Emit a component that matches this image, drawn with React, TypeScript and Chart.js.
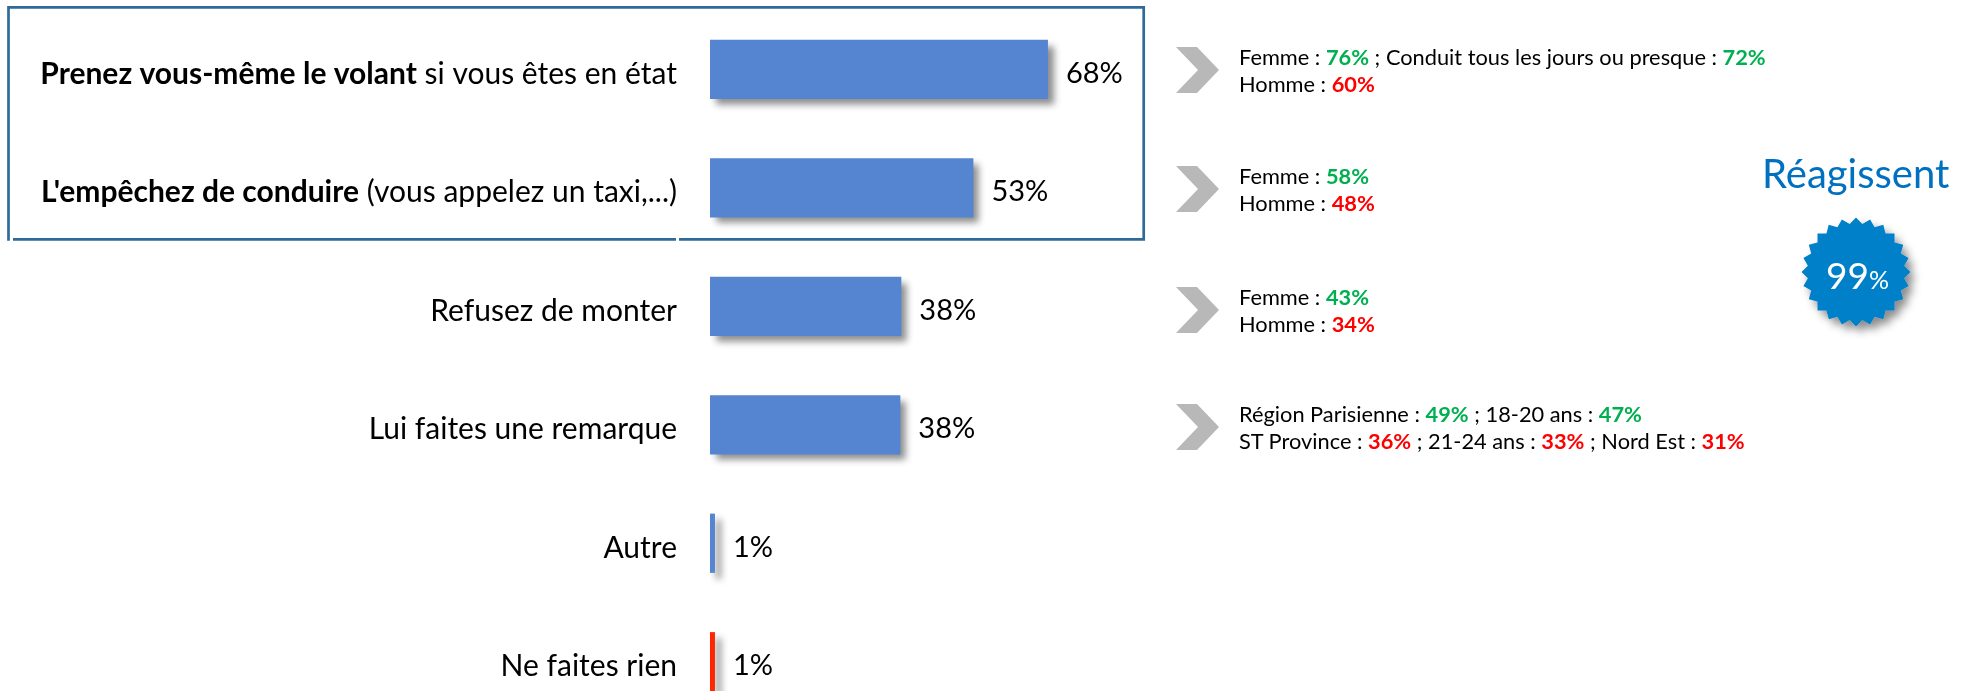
import React, { useEffect, useRef } from "react";
import { Chart, registerables } from "chart.js";

Chart.register(...registerables);

const categories = [
  "Prenez vous-même le volant si vous êtes en état",
  "L'empêchez de conduire (vous appelez un taxi,...)",
  "Refusez de monter",
  "Lui faites une remarque",
  "Autre",
  "Ne faites rien",
];
const boldPrefixes = ["Prenez vous-même le volant", "L'empêchez de conduire", "", "", "", ""];
const values = [68, 53, 38.5, 38.3, 1, 1];
const valueLabels = ["68%", "53%", "38%", "38%", "1%", "1%"];
const barColors = ["#5585d1", "#5585d1", "#5585d1", "#5585d1", "#5585d1", "#ff2600"];

const FONT = "Lato, sans-serif";
const GREEN = "#00b050";
const RED = "#ff0000";

type Seg = [string, string?];
const notes: { top: number; lines: Seg[][] }[] = [
  { top: 70, lines: [
    [["Femme : "], ["76%", GREEN], [" ; Conduit tous les jours ou presque : "], ["72%", GREEN]],
    [["Homme : "], ["60%", RED]],
  ] },
  { top: 189, lines: [
    [["Femme : "], ["58%", GREEN]],
    [["Homme : "], ["48%", RED]],
  ] },
  { top: 310, lines: [
    [["Femme : "], ["43%", GREEN]],
    [["Homme : "], ["34%", RED]],
  ] },
  { top: 427, lines: [
    [["Région Parisienne : "], ["49%", GREEN], [" ; 18-20 ans : "], ["47%", GREEN]],
    [["ST Province : "], ["36%", RED], [" ; 21-24 ans : "], ["33%", RED], [" ; Nord Est : "], ["31%", RED]],
  ] },
];

const starPoints = (() => {
  const pts: string[] = [];
  const n = 24;
  for (let i = 0; i < n * 2; i++) {
    const r = i % 2 === 0 ? 54.5 : 48.5;
    const a = (Math.PI * i) / n - Math.PI / 2;
    pts.push(`${(60 + r * Math.cos(a)).toFixed(1)},${(60 + r * Math.sin(a)).toFixed(1)}`);
  }
  return pts.join(" ");
})();

const overlay = {
  id: "overlay",
  beforeDatasetDraw(chart: any) {
    const c = chart.ctx;
    c.save();
    c.shadowColor = "rgba(0,0,0,0.45)";
    c.shadowBlur = 7;
    c.shadowOffsetX = 6;
    c.shadowOffsetY = 6;
  },
  afterDatasetDraw(chart: any) {
    chart.ctx.restore();
  },
  afterDraw(chart: any) {
    const c = chart.ctx;
    const x = chart.scales.x;
    const y = chart.scales.y;
    c.save();
    c.textBaseline = "middle";
    c.fillStyle = "#000";
    categories.forEach((label, i) => {
      const py = y.getPixelForValue(i) + 5;
      const bold = boldPrefixes[i];
      const rest = label.slice(bold.length);
      c.textAlign = "left";
      c.font = `30px ${FONT}`;
      const restW = c.measureText(rest).width;
      c.font = `bold 30px ${FONT}`;
      const boldW = bold ? c.measureText(bold).width : 0;
      const start = 677 - restW - boldW;
      if (bold) c.fillText(bold, start, py);
      c.font = `30px ${FONT}`;
      c.fillText(rest, start + boldW, py);
      c.font = `29px ${FONT}`;
      c.fillText(valueLabels[i], x.getPixelForValue(values[i]) + 18, py - 1);
    });
    c.restore();
  },
};

export default function App() {
  const ref = useRef<HTMLCanvasElement>(null);
  useEffect(() => {
    const chart = new Chart(ref.current!, {
      type: "bar",
      data: {
        labels: categories,
        datasets: [{ data: values, backgroundColor: barColors, barPercentage: 1, categoryPercentage: 0.5 }],
      },
      options: {
        indexAxis: "y",
        animation: false,
        responsive: false,
        layout: { padding: { left: 710, right: 763, top: 10, bottom: 0 } },
        plugins: { legend: { display: false }, tooltip: { enabled: false } },
        scales: {
          x: { display: false, min: 0, max: 100 },
          y: { display: false },
        },
      },
      plugins: [overlay],
    });
    return () => chart.destroy();
  }, []);

  return (
    <div style={{ position: "absolute", left: 0, top: 0, width: 1970, height: 691, overflow: "hidden", background: "#fff", fontFamily: FONT }}>
      <canvas ref={ref} width={1970} height={721} style={{ position: "absolute", left: 0, top: 0 }} />
      <svg width={1970} height={691} style={{ position: "absolute", left: 0, top: 0 }}>
        <path d="M8.5 240.7 V7.3 H1143.7 V239.3 H679 M676 239.3 H13" fill="none" stroke="#2f6a99" strokeWidth={2.7} />
        {notes.map((n) => (
          <polygon key={n.top} fill="#b8b8b8" points={`1176,${n.top - 23} 1197,${n.top - 23} 1219,${n.top} 1197,${n.top + 23} 1176,${n.top + 23} 1198,${n.top}`} />
        ))}
        <defs>
          <filter id="s" x="-20%" y="-20%" width="150%" height="150%">
            <feDropShadow dx="5" dy="6" stdDeviation="4" floodColor="#000" floodOpacity="0.45" />
          </filter>
        </defs>
        <g transform="translate(1796,212)">
          <polygon points={starPoints} fill="#0080c8" filter="url(#s)" />
        </g>
      </svg>
      {notes.map((n) =>
        n.lines.map((line, li) => (
          <div key={`${n.top}-${li}`} style={{ position: "absolute", left: 1239, top: n.top - 26 + li * 27, lineHeight: "26px", fontSize: 21.8, whiteSpace: "pre", color: "#000" }}>
            {line.map(([t, col], si) => (
              <span key={si} style={col ? { color: col, fontWeight: 700 } : undefined}>{t}</span>
            ))}
          </div>
        ))
      )}
      <div style={{ position: "absolute", left: 1762, top: 150, fontSize: 40, lineHeight: "46px", color: "#0070c0", whiteSpace: "pre" }}>Réagissent</div>
      <div style={{ position: "absolute", left: 1826, top: 250, lineHeight: "50px", color: "#fff", fontSize: 37, whiteSpace: "pre" }}>
        99<span style={{ fontSize: 25 }}>%</span>
      </div>
    </div>
  );
}
